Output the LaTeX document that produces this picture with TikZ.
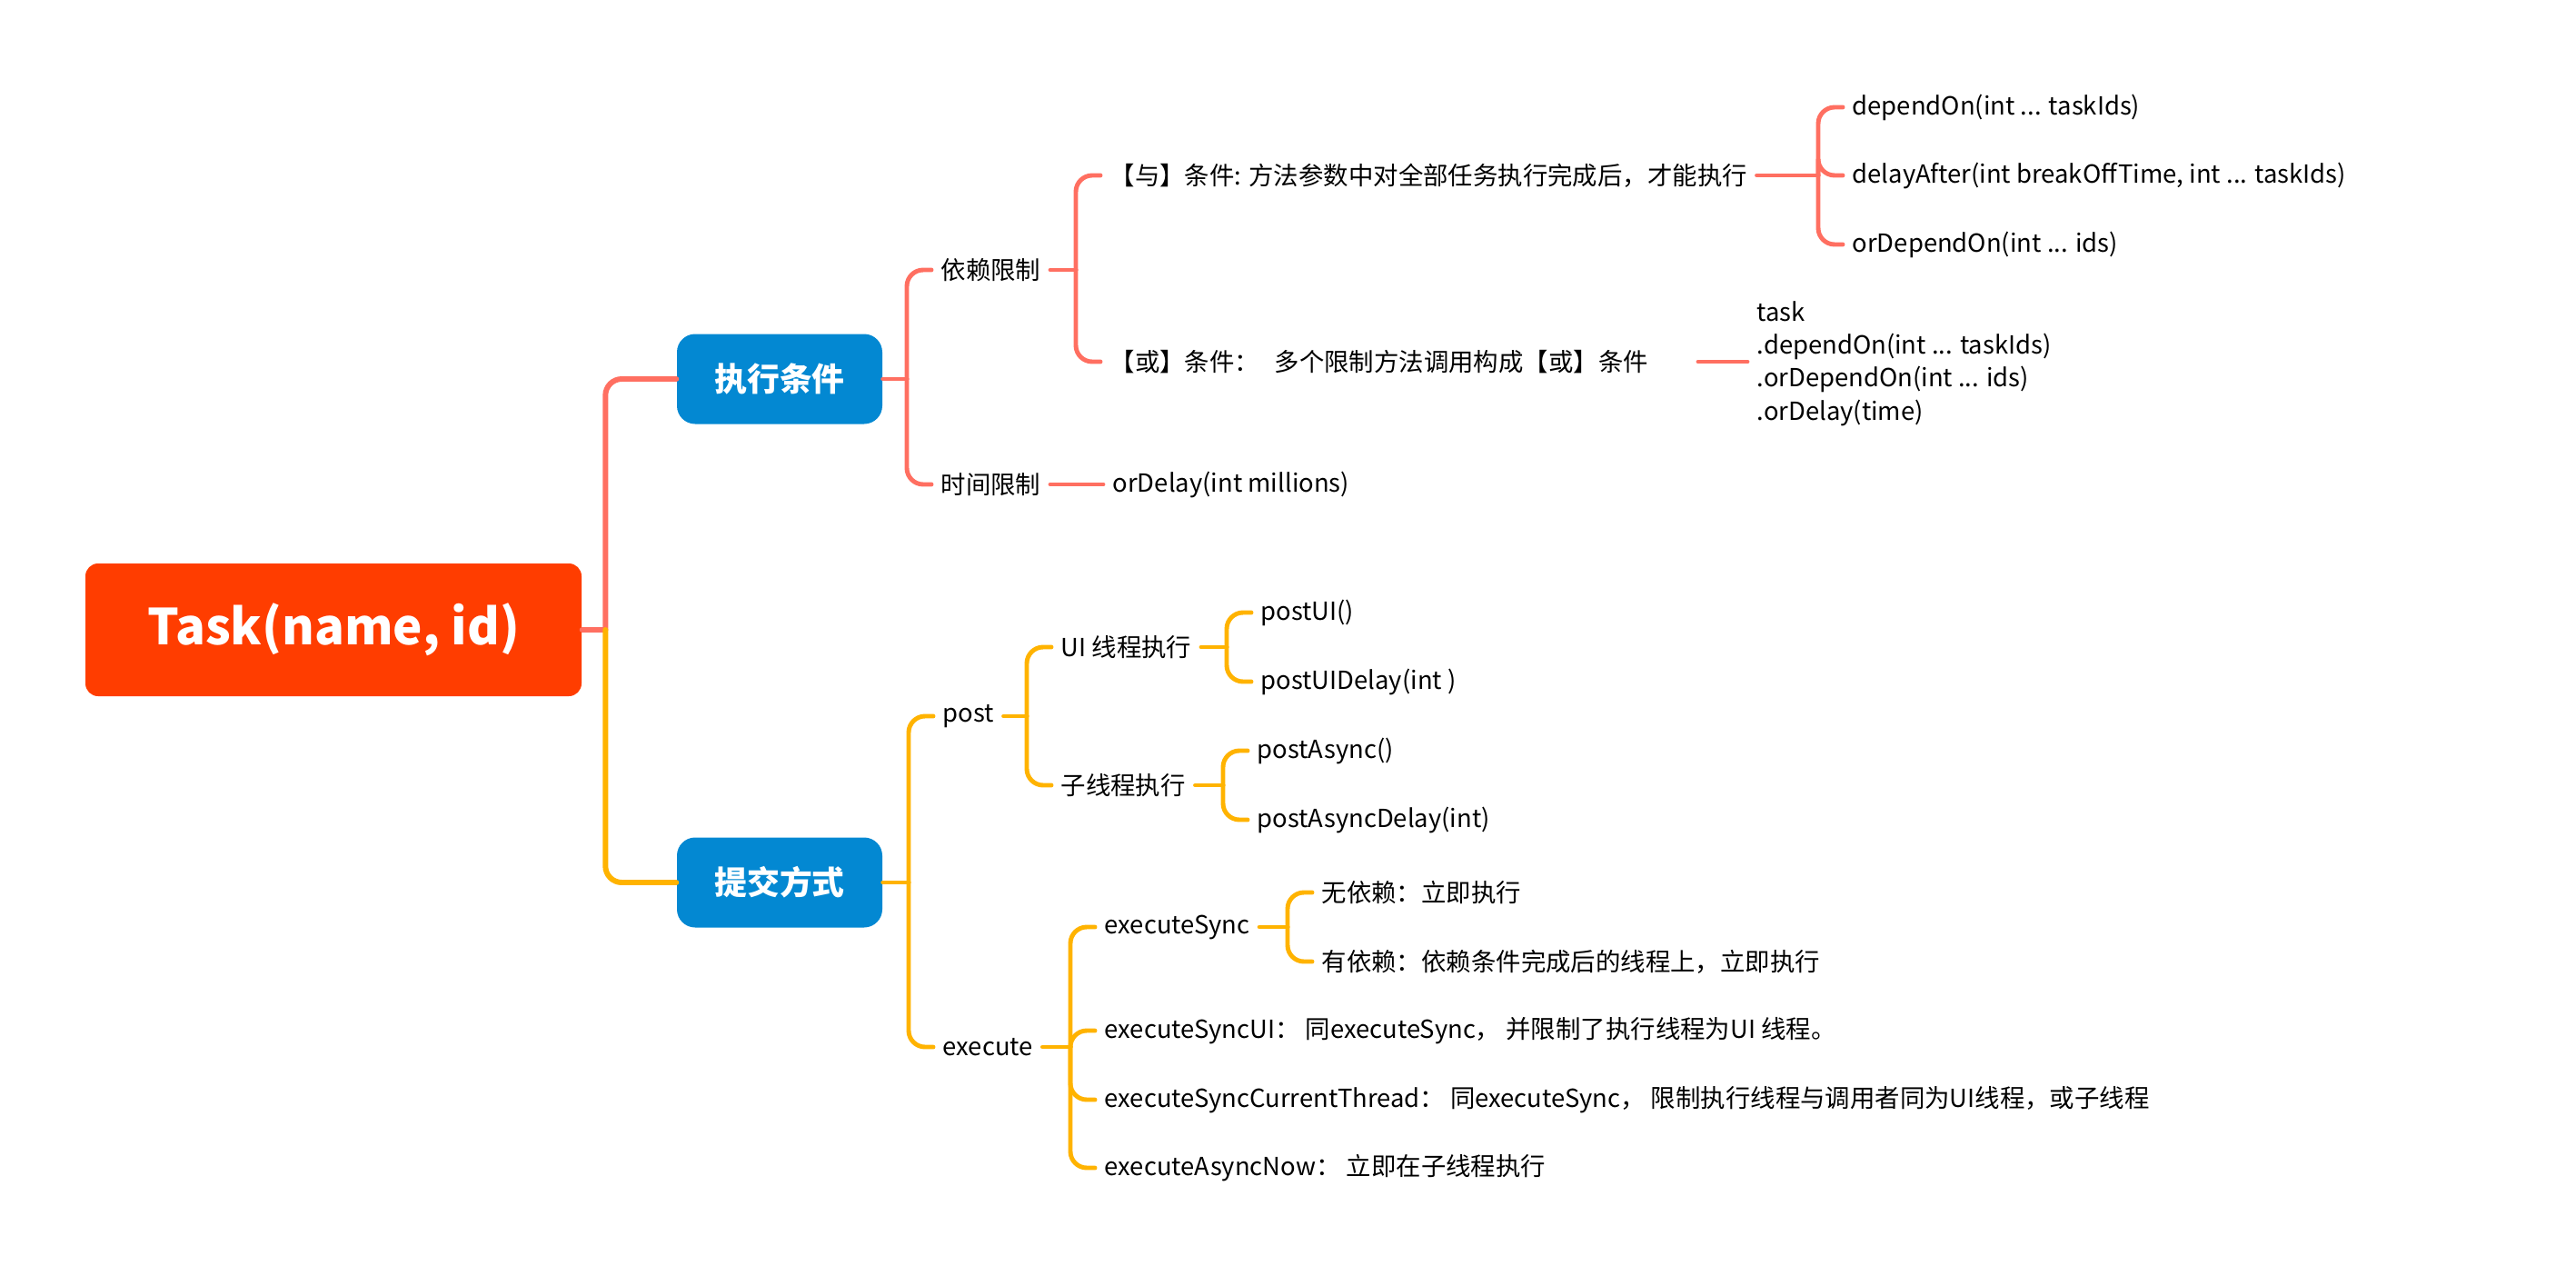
\documentclass[tikz,border=0pt]{standalone}
\usepackage{fontspec}
\setmainfont{Noto Sans CJK SC}
\usetikzlibrary{positioning}
\definecolor{lnred}{HTML}{FF6F61}
\definecolor{lnyel}{HTML}{FFB300}
\definecolor{taskred}{HTML}{FF3D00}
\definecolor{boxblue}{HTML}{0388D2}

\begin{document}
\begin{tikzpicture}[
    topic/.style={rectangle, rounded corners=1.4mm, fill=taskred, text=white, font=\fontsize{15.5}{18}\selectfont\bfseries, minimum width=5.46cm, minimum height=1.46cm},
    sub/.style={rectangle, rounded corners=2mm, fill=boxblue, text=white, font=\fontsize{10.2}{12}\selectfont\bfseries, minimum width=2.26cm, minimum height=0.99cm},
    leaf/.style={anchor=west, inner xsep=1mm, inner ysep=1pt, font=\fontsize{7.8}{10.3}\selectfont},
    rline/.style={draw=lnred, line width=1.4pt, rounded corners=1.8mm, line cap=round},
    yline/.style={draw=lnyel, line width=1.4pt, rounded corners=1.8mm, line cap=round}
  ]
    \fill[white] (0,0) rectangle (28.35,-14.03);
    \useasboundingbox (0,0) rectangle (28.35,-14.03);

    \node[topic] (task) at (3.67,-6.93) {Task(name, id)};
    \node[sub] (cond) at (8.58,-4.17) {执行条件};
    \node[sub] (submit) at (8.58,-9.71) {提交方式};

    % 执行条件
    \node[leaf] (dep) at (10.25,-2.97) {依赖限制};
    \node[leaf] (time) at (10.25,-5.33) {时间限制};
    \node[leaf] (andc) at (12.11,-1.93) {【与】条件: 方法参数中对全部任务执行完成后，才能执行};
    \node[leaf] (orc) at (12.11,-3.98) {【或】条件：\hspace{0.6em}多个限制方法调用构成【或】条件};
    \node[leaf] (dependon) at (20.28,-1.18) {dependOn(int ... taskIds)};
    \node[leaf] (delayafter) at (20.28,-1.93) {delayAfter(int breakOffTime, int ... taskIds)};
    \node[leaf] (ordependon) at (20.28,-2.69) {orDependOn(int ... ids)};
    \node[leaf, align=left] (chain) at (19.23,-4.00) {task\\.dependOn(int ... taskIds)\\.orDependOn(int ... ids)\\.orDelay(time)};
    \node[leaf] (ordelay) at (12.14,-5.33) {orDelay(int millions)};

    % 提交方式
    \node[leaf] (post) at (10.27,-7.88) {post};
    \node[leaf] (exec) at (10.27,-11.52) {execute};
    \node[leaf] (uith) at (11.57,-7.12) {UI 线程执行};
    \node[leaf] (subth) at (11.57,-8.64) {子线程执行};
    \node[leaf] (postui) at (13.77,-6.74) {postUI()};
    \node[leaf] (postuidelay) at (13.77,-7.50) {postUIDelay(int )};
    \node[leaf] (postasync) at (13.73,-8.26) {postAsync()};
    \node[leaf] (postasyncdelay) at (13.73,-9.02) {postAsyncDelay(int)};
    \node[leaf] (esync) at (12.05,-10.20) {executeSync};
    \node[leaf] (esyncui) at (12.05,-11.34) {executeSyncUI： 同executeSync， 并限制了执行线程为UI 线程。};
    \node[leaf] (esynccur) at (12.05,-12.10) {executeSyncCurrentThread： 同executeSync， 限制执行线程与调用者同为UI线程，或子线程};
    \node[leaf] (easync) at (12.05,-12.85) {executeAsyncNow： 立即在子线程执行};
    \node[leaf] (nodep) at (14.44,-9.82) {无依赖：立即执行};
    \node[leaf] (hasdep) at (14.44,-10.58) {有依赖：依赖条件完成后的线程上，立即执行};

    % bars
    \coordinate (trunk) at ([xshift=-7.8mm]cond.west);
    \coordinate (condbar) at ([xshift=-2.7mm]dep.west);
    \coordinate (depbar) at ([xshift=-2.7mm]andc.west);
    \coordinate (andbar) at ([xshift=-2.7mm]dependon.west);
    \coordinate (submitbar) at ([xshift=-2.7mm]post.west);
    \coordinate (postbar) at ([xshift=-2.7mm]uith.west);
    \coordinate (uibar) at ([xshift=-2.7mm]postui.west);
    \coordinate (subbar) at ([xshift=-2.7mm]postasync.west);
    \coordinate (execbar) at ([xshift=-2.7mm]esync.west);
    \coordinate (esyncbar) at ([xshift=-2.7mm]nodep.west);

    \draw[rline, line width=1.7pt] (task.east) -- (trunk |- task.east);
    \draw[rline, line width=1.7pt] (trunk |- task.east) |- (cond.west);
    \draw[yline, line width=1.7pt] (trunk |- task.east) |- (submit.west);

    \draw[rline] (cond.east) -- (condbar |- cond.east);
    \foreach \c in {dep,time} \draw[rline] (condbar |- cond.east) |- (\c.west);
    \draw[rline] (dep.east) -- (depbar |- dep.east);
    \foreach \c in {andc,orc} \draw[rline] (depbar |- dep.east) |- (\c.west);
    \draw[rline] (andc.east) -- (andbar |- andc.east);
    \foreach \c in {dependon,delayafter,ordependon} \draw[rline] (andbar |- andc.east) |- (\c.west);
    \draw[rline] ([xshift=-5.4mm]chain.west |- orc.east) -- (chain.west |- orc.east);
    \draw[rline] (time.east) -- (ordelay.west);

    \draw[yline] (submit.east) -- (submitbar |- submit.east);
    \foreach \c in {post,exec} \draw[yline] (submitbar |- submit.east) |- (\c.west);
    \draw[yline] (post.east) -- (postbar |- post.east);
    \foreach \c in {uith,subth} \draw[yline] (postbar |- post.east) |- (\c.west);
    \draw[yline] (uith.east) -- (uibar |- uith.east);
    \foreach \c in {postui,postuidelay} \draw[yline] (uibar |- uith.east) |- (\c.west);
    \draw[yline] (subth.east) -- (subbar |- subth.east);
    \foreach \c in {postasync,postasyncdelay} \draw[yline] (subbar |- subth.east) |- (\c.west);
    \draw[yline] (exec.east) -- (execbar |- exec.east);
    \foreach \c in {esync,esyncui,esynccur,easync} \draw[yline] (execbar |- exec.east) |- (\c.west);
    \draw[yline] (esync.east) -- (esyncbar |- esync.east);
    \foreach \c in {nodep,hasdep} \draw[yline] (esyncbar |- esync.east) |- (\c.west);
  \end{tikzpicture}
\end{document}
